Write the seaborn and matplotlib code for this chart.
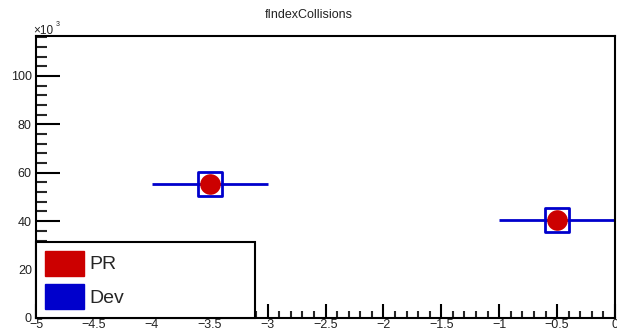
import numpy as np
import pandas as pd
import matplotlib
matplotlib.use("Agg")
import matplotlib.pyplot as plt
from matplotlib.patches import Patch
from matplotlib.ticker import MultipleLocator
import seaborn as sns

# ---- data ----
bin_centers = [-3.5, -0.5]
bin_half_width = [0.5, 0.5]
pr_counts = [55400, 40500]
dev_counts = [55400, 40500]
series_names = ["PR", "Dev"]
title = "fIndexCollisions"

sns.set_theme(style="white")
plt.rcParams["font.family"] = ["Liberation Sans", "DejaVu Sans"]

fig = plt.figure(figsize=(6.17, 3.33), dpi=100)
ax = fig.add_axes([36 / 617, 15 / 333, 579 / 617, 282 / 333])

red = "#CC0000"
blue = "#0000CC"

df = pd.DataFrame({"x": bin_centers, "hw": bin_half_width,
                   "pr": np.array(pr_counts) / 1e3, "dev": np.array(dev_counts) / 1e3})

# Dev: horizontal bin-width bars + open squares
ax.hlines(df["dev"], df["x"] - df["hw"], df["x"] + df["hw"], color=blue, lw=2, zorder=2)
sns.scatterplot(data=df, x="x", y="dev", marker="s", s=300, facecolor="none",
                edgecolor=blue, linewidth=2, ax=ax, zorder=3, legend=False)
# PR: filled red circles
sns.scatterplot(data=df, x="x", y="pr", marker="o", s=220, color=red,
                edgecolor=red, linewidth=0, ax=ax, zorder=4, legend=False)

ax.set_xlim(-5, 0)
ax.set_ylim(0, 116.5)
ax.set_xlabel("")
ax.set_ylabel("")

for s in ax.spines.values():
    s.set_color("black")
    s.set_linewidth(1.5)

ax.xaxis.set_major_locator(MultipleLocator(0.5))
ax.xaxis.set_minor_locator(MultipleLocator(0.1))
ax.yaxis.set_major_locator(MultipleLocator(20))
ax.yaxis.set_minor_locator(MultipleLocator(4))
ax.tick_params(axis="x", which="major", direction="in", length=10, width=1.5,
               labelsize=9, pad=1, bottom=True, top=False, colors="black")
ax.tick_params(axis="x", which="minor", direction="in", length=5, width=1.5,
               bottom=True, top=False)
ax.tick_params(axis="y", which="major", direction="in", length=17, width=1.5,
               labelsize=9, pad=3, left=True, right=False, colors="black")
ax.tick_params(axis="y", which="minor", direction="in", length=8, width=1.5,
               left=True, right=False)
ax.set_xticks(np.arange(-5, 0.01, 0.5))
ax.set_xticklabels(["\u22125", "\u22124.5", "\u22124", "\u22123.5", "\u22123", "\u22122.5",
                    "\u22122", "\u22121.5", "\u22121", "\u22120.5", "0"])
for lab in ax.get_xticklabels() + ax.get_yticklabels():
    lab.set_color("#222222")

fig.text(33 / 617, 1 - 34 / 333, "\u00d710", fontsize=8.5, ha="left", va="baseline", color="#222222")
fig.text(56 / 617, 1 - 26 / 333, "3", fontsize=5, ha="left", va="baseline", color="#222222")

fig.text(0.5, 1 - 15 / 333, title, ha="center", va="center", fontsize=9, color="#222222")

handles = [Patch(facecolor=red, edgecolor=red), Patch(facecolor=blue, edgecolor=blue)]
leg = ax.legend(handles, series_names, loc="lower left", bbox_to_anchor=(0, 0, 0.378, 0.266),
                mode="expand", fontsize=14, frameon=True, fancybox=False, borderaxespad=0,
                handlelength=2.0, handleheight=1.6, handletextpad=0.3, borderpad=0.45,
                labelspacing=0.45)
leg.get_frame().set_edgecolor("black")
leg.get_frame().set_linewidth(1.5)
leg.get_frame().set_alpha(1)

fig.savefig("out.png", dpi=100)
